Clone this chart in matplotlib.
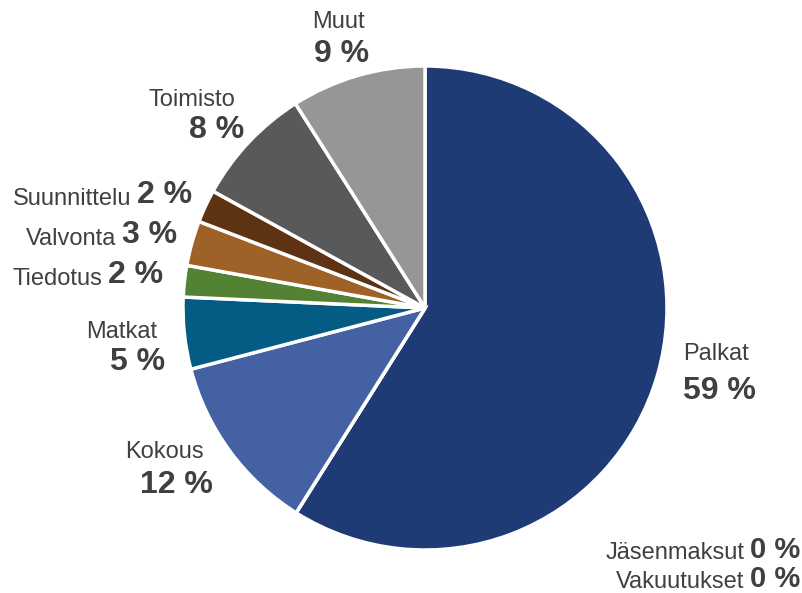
import matplotlib.pyplot as plt

plt.rcParams['font.family'] = ['Liberation Sans', 'DejaVu Sans']

# data, clockwise from top
categories = ["Palkat", "Jäsenmaksut", "Vakuutukset", "Kokous", "Matkat",
              "Tiedotus", "Valvonta", "Suunnittelu", "Toimisto", "Muut"]
shares = [59.0, 0.0, 0.0, 12.0, 4.8, 2.1, 3.0, 2.2, 8.0, 9.0]
colors = ["#1F3B76", "#2E75B6", "#7F7F7F", "#4461A3", "#045C84",
          "#548235", "#9E6128", "#5E3314", "#595959", "#969696"]

TXT = "#404040"
CX, CY, R = 425, 308, 242  # pie centre and radius in pixels


def px(x, y):
    """pixel position in the picture -> data coords (pie radius = 1)"""
    return (x - CX) / R, (CY - y) / R


fig = plt.figure(figsize=(8.03, 5.93), dpi=100)
ax = fig.add_axes([0, 0, 1, 1])
ax.pie(shares, colors=colors, startangle=90, counterclock=False, radius=1,
       wedgeprops=dict(edgecolor="white", linewidth=2.5))
ax.set_xlim(-CX / R, (803 - CX) / R)
ax.set_ylim((CY - 593) / R, CY / R)
ax.axis("off")

pct = {c: f"{round(v)} %" for c, v in zip(categories, shares)}
name_fs, pct_fs = 17, 23

# two-line labels: (category, name pos, pct pos, ha)
stacked = [
    ("Palkat", (683, 354), (683, 391), "left"),
    ("Kokous", (164, 452), (176, 485), "center"),
    ("Matkat", (122, 332), (138, 362), "center"),
    ("Toimisto", (192, 100), (217, 130), "center"),
    ("Muut", (338, 22), (342, 54), "center"),
]
for cat, npos, ppos, ha in stacked:
    ax.text(*px(*npos), cat, fontsize=name_fs, color=TXT, ha=ha, va="center")
    ax.text(*px(*ppos), pct[cat], fontsize=pct_fs, fontweight="bold",
            color=TXT, ha=ha, va="center")

# one-line labels: (category, right edge of pct, centre y, pct size)
inline = [
    ("Suunnittelu", 192, 195, pct_fs),
    ("Valvonta", 177, 235, pct_fs),
    ("Tiedotus", 163, 275, pct_fs),
    ("Jäsenmaksut", 800, 550, 21),
    ("Vakuutukset", 800, 579, 21),
]
for cat, xr, yc, fs in inline:
    t = ax.text(*px(xr, yc), pct[cat], fontsize=fs, fontweight="bold",
                color=TXT, ha="right", va="center")
    ax.annotate(cat, xy=(0, 0), xycoords=t, xytext=(-4, 0),
                textcoords="offset points", fontsize=name_fs, color=TXT,
                ha="right", va="bottom")

fig.savefig("out.png", dpi=100)
